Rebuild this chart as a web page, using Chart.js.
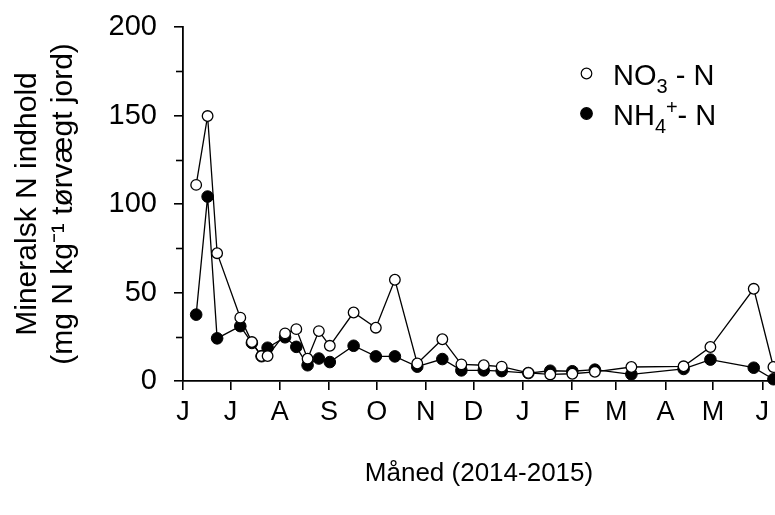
<!DOCTYPE html>
<html>
<head>
<meta charset="utf-8">
<script src="https://cdn.jsdelivr.net/npm/chart.js@4"></script>
<style>
  body { margin: 0; background: #fff; }
  canvas { display: block; }
</style>
</head>
<body>
<canvas id="n_chart" width="775" height="515"></canvas>
<script>
const n_chart = document.querySelector('#n_chart')

// days after 1 June 2014
const sampleDays = [8.3, 15.5, 21.5, 36.1, 43.4, 49.5, 53.3, 64.3, 71.4, 78.5, 85.6, 92.5, 107.5, 121.5, 133.5,
    147.6, 163.4, 175.4, 189.5, 200.8, 217.6, 231.4, 245.3, 259.5, 282.5, 315.4, 332.3, 359.6, 372]
const no3Values = [110.8, 149.7, 72.2, 35.8, 22.0, 14.1, 14.1, 26.9, 29.3, 12.6, 28.2, 19.9, 38.7, 30.1, 57.2,
    9.9, 23.6, 9.4, 8.9, 8.1, 4.6, 3.7, 4.1, 5.2, 7.9, 8.3, 19.2, 52.1, 7.9]
const nh4Values = [37.5, 104.2, 24.1, 31.0, 21.5, 14.0, 18.8, 24.7, 19.3, 8.9, 12.7, 10.7, 19.9, 13.9, 13.9,
    8.1, 12.4, 6.0, 6.0, 5.6, 4.5, 5.8, 5.5, 6.4, 3.8, 6.8, 12.1, 7.5, 1.0]

const monthDays = [0, 30, 61, 92, 122, 153, 183, 214, 245, 273, 304, 334, 365]
const monthLabels = ['J', 'J', 'A', 'S', 'O', 'N', 'D', 'J', 'F', 'M', 'A', 'M', 'J']
const yTickLabels = [0, 50, 100, 150, 200]

const FONT = '"Liberation Sans", Arial, sans-serif'

const toPoints = values => values.map((v, i) => ({ x: sampleDays[i], y: v }))

// shorter ticks between the labelled ones on the y axis
const minorTicks = {
    id: 'minorTicks',
    afterDraw(chart) {
        const y = chart.scales.y
        const ctx = chart.ctx
        ctx.save()
        ctx.strokeStyle = '#000'
        ctx.lineWidth = 1.6
        y.ticks.forEach(t => {
            if (yTickLabels.includes(t.value)) return
            const py = Math.round(y.getPixelForValue(t.value)) + 0.5
            ctx.beginPath()
            ctx.moveTo(chart.chartArea.left - 7, py)
            ctx.lineTo(chart.chartArea.left, py)
            ctx.stroke()
        })
        ctx.restore()
    }
}

// legend with sub/superscripts
const legendPlugin = {
    id: 'legendPlugin',
    afterDraw(chart) {
        const ctx = chart.ctx
        const items = [
            { ds: chart.data.datasets[0], y: 85, parts: [['NO', 0], ['3', 1], [' - N', 0]] },
            { ds: chart.data.datasets[1], y: 125, parts: [['NH', 0], ['4', 1], ['+', 2], ['- N', 0]] }
        ]
        ctx.save()
        items.forEach(item => {
            ctx.beginPath()
            ctx.arc(586.5, item.y - 11.5, item.ds.pointRadius, 0, Math.PI * 2)
            ctx.fillStyle = item.ds.pointBackgroundColor
            ctx.fill()
            ctx.lineWidth = 1.2
            ctx.strokeStyle = '#000'
            ctx.stroke()
            let x = 613
            let supX = 0
            ctx.fillStyle = '#000'
            ctx.textBaseline = 'alphabetic'
            item.parts.forEach(([t, kind]) => {
                if (kind === 0) {
                    ctx.font = '29px ' + FONT
                    ctx.fillText(t, x, item.y)
                    x += ctx.measureText(t).width
                } else if (kind === 1) {
                    ctx.font = '20px ' + FONT
                    supX = x
                    ctx.fillText(t, x, item.y + 8)
                    x += ctx.measureText(t).width
                } else {
                    ctx.font = '20px ' + FONT
                    ctx.fillText(t, supX + 11, item.y - 11)
                    x = supX + 11 + ctx.measureText(t).width
                }
            })
        })
        ctx.restore()
    }
}

new Chart(n_chart, {
    type: 'line',
    data: {
        datasets: [{
            label: 'NO3 - N',
            data: toPoints(no3Values),
            borderColor: '#000',
            borderWidth: 1.3,
            pointRadius: 5.3,
            pointBackgroundColor: '#fff',
            pointBorderColor: '#000',
            pointBorderWidth: 1.3,
            clip: false
        }, {
            label: 'NH4+ - N',
            data: toPoints(nh4Values),
            borderColor: '#000',
            borderWidth: 1.3,
            pointRadius: 5.8,
            pointBackgroundColor: '#000',
            pointBorderColor: '#000',
            pointBorderWidth: 1,
            clip: false
        }]
    },
    options: {
        responsive: false,
        animation: false,
        layout: {
            autoPadding: false,
            padding: { top: 27, left: 0, right: 0, bottom: 0 }
        },
        plugins: {
            legend: false,
            tooltip: { enabled: false }
        },
        scales: {
            x: {
                type: 'linear',
                min: 0,
                max: 373,
                afterBuildTicks: scale => {
                    scale.ticks = monthDays.map(d => ({ value: d }))
                },
                afterFit: scale => {
                    scale.height = 134
                    scale.paddingLeft = 0
                    scale.paddingRight = 0
                },
                ticks: {
                    autoSkip: false,
                    maxRotation: 0,
                    padding: 6,
                    color: '#000',
                    font: { family: FONT, size: 27 },
                    callback: value => monthLabels[monthDays.indexOf(value)]
                },
                grid: {
                    drawOnChartArea: false,
                    drawTicks: true,
                    tickLength: 9,
                    color: '#000',
                    lineWidth: 1.6
                },
                border: { display: true, color: '#000', width: 1.8 },
                title: {
                    display: true,
                    text: 'Måned (2014-2015)',
                    color: '#000',
                    font: { family: FONT, size: 26 },
                    padding: { top: 0, bottom: 26 }
                }
            },
            y: {
                min: 0,
                max: 200,
                afterFit: scale => {
                    scale.width = 183
                    scale.paddingTop = 0
                    scale.paddingBottom = 0
                },
                ticks: {
                    stepSize: 25,
                    padding: 17,
                    color: '#000',
                    font: { family: FONT, size: 29 },
                    callback: value => yTickLabels.includes(value) ? value : ''
                },
                grid: {
                    drawOnChartArea: false,
                    drawTicks: true,
                    tickLength: 9,
                    color: ctx => yTickLabels.includes(ctx.tick.value) ? '#000' : 'rgba(0,0,0,0)',
                    lineWidth: 1.6
                },
                border: { display: true, color: '#000', width: 1.8 },
                title: {
                    display: true,
                    text: ['Mineralsk N indhold', '(mg N kg\u207B\u00B9 tørvægt jord)'],
                    color: '#000',
                    font: { family: FONT, size: 30, lineHeight: 1.2 },
                    padding: { top: 10, bottom: 0 }
                }
            }
        }
    },
    plugins: [legendPlugin, minorTicks]
})
</script>
</body>
</html>
